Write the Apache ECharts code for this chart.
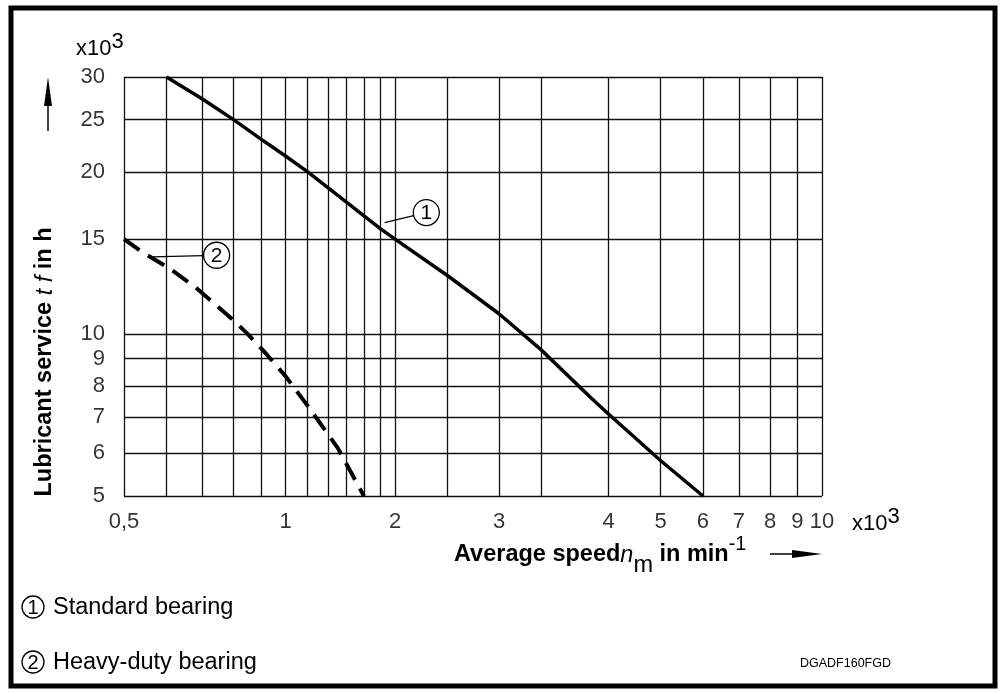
<!DOCTYPE html>
<html>
<head>
<meta charset="utf-8">
<script src="https://cdn.jsdelivr.net/npm/echarts@6/dist/echarts.min.js"></script>
<style>
html,body{margin:0;padding:0;background:#fff}
#chart{width:1003px;height:693px}
</style>
</head>
<body>
<div id="chart"></div>
<script>
// grid lines (x10^3)
var speedGrid = [0.5, 0.6, 0.7, 0.8, 0.9, 1, 1.1, 1.2, 1.3, 1.4, 1.5, 1.6, 2, 2.5, 3, 4, 5, 6, 7, 8, 9, 10];
var serviceGrid = [5, 6, 7, 8, 9, 10, 15, 20, 25, 30];
// tick labels, placed where the drawing puts them
var speedTickPos = [0.5, 1, 1.6, 2.5, 4, 5, 6, 7, 8, 9, 10];
var speedTickText = ['0,5', '1', '2', '3', '4', '5', '6', '7', '8', '9', '10'];
var serviceTicks = [5, 6, 7, 8, 9, 10, 15, 20, 25, 30];
// curves: [speed, service life] x10^3
var standardBearing = [[0.6, 30], [0.7, 27.3], [0.8, 25.0], [0.9, 23.0], [1.0, 21.4], [1.1, 20.0], [1.5, 15.7], [1.6, 15.0],
  [2.0, 12.85], [2.5, 10.9], [3.0, 9.33], [3.7, 7.63], [4.0, 7.1], [5.0, 5.82], [6.0, 5.0]];
var heavyDutyBearing = [[0.5, 15], [0.54, 14.2], [0.61, 13.2], [0.68, 12.2], [0.8, 10.6], [0.85, 10.0], [0.91, 9.3],
  [1.0, 8.35], [1.1, 7.35], [1.25, 6.15], [1.4, 5.0]];
// callouts: circle centre and tip on the curve
var callout1 = { circle: [1.83, 16.8], tip: [1.53, 16.1], text: '1' };
var callout2 = { circle: [0.744, 14.0], tip: [0.564, 13.9], text: '2' };

var FONT = '"Liberation Sans", Arial, sans-serif';

var chart = echarts.init(document.getElementById('chart'));

var gridLines = [];
speedGrid.forEach(function (v) { gridLines.push({ xAxis: v }); });
serviceGrid.forEach(function (v) { gridLines.push({ yAxis: v }); });

var option = {
  animation: false,
  backgroundColor: '#fff',
  grid: { left: 124, top: 77, width: 698, height: 419 },
  xAxis: {
    type: 'log', logBase: 10, min: 0.5, max: 10,
    axisLine: { show: false }, axisTick: { show: false }, axisLabel: { show: false }, splitLine: { show: false }
  },
  yAxis: {
    type: 'log', logBase: 10, min: 5, max: 30,
    axisLine: { show: false }, axisTick: { show: false }, axisLabel: { show: false }, splitLine: { show: false }
  },
  series: [
    {
      name: 'grid', type: 'line', data: [], silent: true,
      markLine: {
        silent: true, symbol: ['none', 'none'], label: { show: false },
        lineStyle: { color: '#111', width: 1.3, type: 'solid' },
        data: gridLines
      }
    },
    {
      name: 'speedLabels', type: 'scatter', symbolSize: 0, silent: true,
      data: speedTickPos.map(function (v, i) {
        return { value: [v, 5], label: { formatter: speedTickText[i] } };
      }),
      label: { show: true, position: 'bottom', distance: 15, color: '#000', fontSize: 22, fontFamily: FONT }
    },
    {
      name: 'serviceLabels', type: 'scatter', symbolSize: 0, silent: true,
      data: serviceTicks.map(function (v) { return { value: [0.5, v], label: { formatter: String(v) } }; }),
      label: { show: true, position: 'left', distance: 19, color: '#000', fontSize: 22, fontFamily: FONT }
    },
    {
      name: 'Standard bearing', type: 'line', data: standardBearing, symbol: 'none', z: 5,
      lineStyle: { color: '#000', width: 3.5 }
    },
    {
      name: 'Heavy-duty bearing', type: 'line', data: heavyDutyBearing, symbol: 'none', z: 5,
      lineStyle: { color: '#000', width: 4, type: [19, 10] }
    }
  ]
};
chart.setOption(option);

function px(p) { return chart.convertToPixel({ gridIndex: 0 }, p); }

function calloutGraphics(c) {
  var cp = px(c.circle), tp = px(c.tip), r = 13;
  var dx = tp[0] - cp[0], dy = tp[1] - cp[1], d = Math.sqrt(dx * dx + dy * dy);
  return [
    { type: 'line', shape: { x1: cp[0] + dx / d * r, y1: cp[1] + dy / d * r, x2: tp[0], y2: tp[1] }, style: { stroke: '#000', lineWidth: 1.3 }, z: 10 },
    { type: 'circle', shape: { cx: cp[0], cy: cp[1], r: r }, style: { fill: '#fff', stroke: '#000', lineWidth: 1.3 }, z: 10 },
    { type: 'text', x: cp[0], y: cp[1] + 1, style: { text: c.text, fill: '#000', font: '21px ' + FONT, align: 'center', verticalAlign: 'middle' }, z: 11 }
  ];
}

function unitText(x, y) {
  return { type: 'text', x: x, y: y, style: { text: '{a|x10}{s|3}', verticalAlign: 'bottom',
    rich: { a: { fontSize: 22, fontFamily: FONT, fill: '#000', verticalAlign: 'bottom' },
      s: { fontSize: 22, fontFamily: FONT, fill: '#000', padding: [0, 0, 7, 0], verticalAlign: 'bottom' } } } };
}

var graphics = [
  // frame
  { type: 'rect', shape: { x: 11, y: 8, width: 984, height: 678 }, style: { fill: 'none', stroke: '#000', lineWidth: 5 } },
  unitText(76, 60),
  unitText(852, 535),
  // y arrow
  { type: 'line', shape: { x1: 48, y1: 131, x2: 48, y2: 100 }, style: { stroke: '#000', lineWidth: 1.5 } },
  { type: 'polygon', shape: { points: [[48, 77], [44, 106], [52, 106]] }, style: { fill: '#000' } },
  // y title
  { type: 'text', x: 45, y: 362, rotation: Math.PI / 2,
    style: { text: '{b|Lubricant service }{i|t f}{b| in h}', align: 'center', verticalAlign: 'middle',
      rich: { b: { fontSize: 23.5, fontWeight: 'bold', fontFamily: FONT, fill: '#000' }, i: { fontSize: 23.5, fontStyle: 'italic', fontFamily: FONT, fill: '#000' } } } },
  // x title
  { type: 'text', x: 454, y: 567,
    style: { text: '{b|Average speed}{i|n}{sub|m}{b| in min}{sup|-1}', verticalAlign: 'bottom',
      rich: {
        b: { fontSize: 23.5, fontWeight: 'bold', fontFamily: FONT, fill: '#000', verticalAlign: 'bottom' },
        i: { fontSize: 23.5, fontStyle: 'italic', fontFamily: FONT, fill: '#000', verticalAlign: 'bottom' },
        sub: { fontSize: 23.5, fontFamily: FONT, fill: '#000', verticalAlign: 'bottom', padding: [0, 0, -11, 0] },
        sup: { fontSize: 20, fontFamily: FONT, fill: '#000', verticalAlign: 'bottom', padding: [0, 2, 13, 0] }
      } } },
  // x arrow
  { type: 'line', shape: { x1: 770, y1: 554, x2: 796, y2: 554 }, style: { stroke: '#000', lineWidth: 1.5 } },
  { type: 'polygon', shape: { points: [[822, 554], [792, 550], [792, 558]] }, style: { fill: '#000' } },
  // legend
  { type: 'circle', shape: { cx: 33, cy: 607, r: 11 }, style: { fill: 'none', stroke: '#000', lineWidth: 1.3 } },
  { type: 'text', x: 33, y: 608, style: { text: '1', font: '20px ' + FONT, fill: '#000', align: 'center', verticalAlign: 'middle' } },
  { type: 'text', x: 53, y: 608, style: { text: 'Standard bearing', font: '23.5px ' + FONT, fill: '#000', verticalAlign: 'middle' } },
  { type: 'circle', shape: { cx: 33, cy: 662, r: 11 }, style: { fill: 'none', stroke: '#000', lineWidth: 1.3 } },
  { type: 'text', x: 33, y: 663, style: { text: '2', font: '20px ' + FONT, fill: '#000', align: 'center', verticalAlign: 'middle' } },
  { type: 'text', x: 53, y: 663, style: { text: 'Heavy-duty bearing', font: '23.5px ' + FONT, fill: '#000', verticalAlign: 'middle' } },
  { type: 'text', x: 800, y: 664, style: { text: 'DGADF160FGD', font: '12.5px ' + FONT, fill: '#000', verticalAlign: 'middle' } }
];
graphics = graphics.concat(calloutGraphics(callout1), calloutGraphics(callout2));

chart.setOption({ graphic: graphics });
</script>
</body>
</html>
